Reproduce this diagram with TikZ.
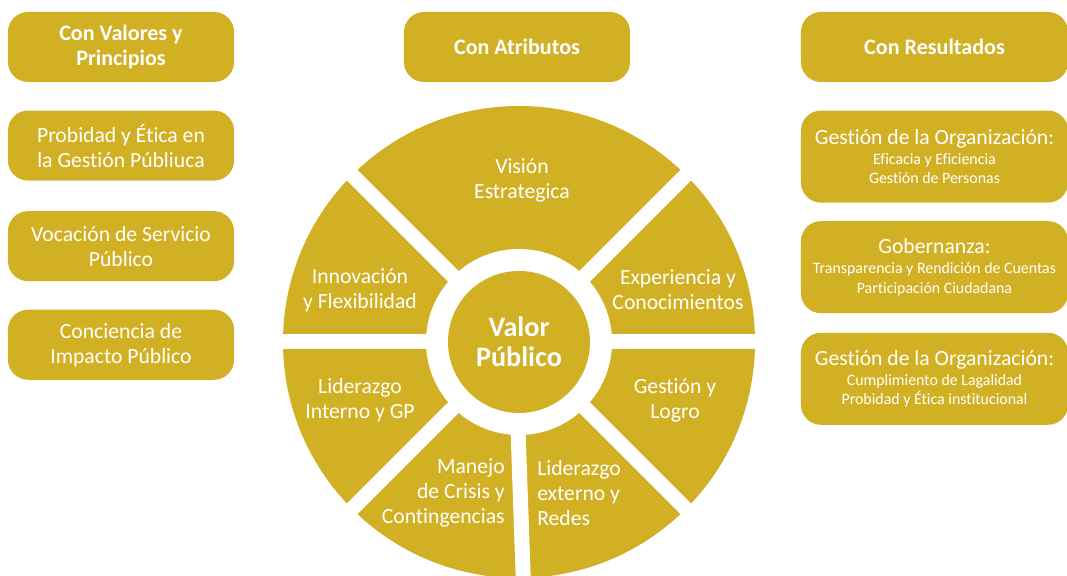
\documentclass[tikz,border=0pt]{standalone}
\usepackage{fontspec}
\setmainfont{Carlito}[Ligatures={NoCommon}]
\usetikzlibrary{positioning}
\definecolor{gold}{RGB}{210,176,36}
\newcommand{\subline}[1]{{\fontsize{11.3}{13.5}\selectfont #1}}

\begin{document}
\begin{tikzpicture}[
    x=0.025cm, y=0.025cm,
    node distance=0.7cm,
    box/.style={fill=gold, rounded corners=0.5cm, minimum width=5.65cm, minimum height=1.75cm, align=center, text=white, inner sep=2pt, font=\fontsize{15.4}{17.8}\selectfont},
    headbox/.style={box, font=\bfseries\fontsize{15.7}{17.8}\selectfont},
    resultbox/.style={box, minimum width=6.675cm, minimum height=2.3cm, font=\fontsize{15.4}{18}\selectfont},
    seglabel/.style={text=white, align=center, inner sep=0pt, font=\fontsize{15.4}{17.8}\selectfont},
    gapline/.style={white, line width=0.375cm}
  ]
  \useasboundingbox (0,0) rectangle (1067,576);
  \clip (0,0) rectangle (1067,576);
  \fill[white] (0,0) rectangle (1067,576);

  % left column
  \node[headbox] (valores) at (121,529) {Con Valores y\\Principios};
  \node[box, below=of valores] (probidad) {Probidad y Ética en\\la Gestión Públiuca};
  \node[box, below=0.75cm of probidad] (vocacion) {Vocación de Servicio\\Público};
  \node[box, below=of vocacion] (conciencia) {Conciencia de\\Impacto Público};

  % middle column
  \node[headbox] (atributos) at (517,529) {Con Atributos};

  % right column
  \node[headbox, minimum width=6.675cm] (resultados) at (934.5,529) {Con Resultados};
  \node[resultbox, below=of resultados] (organizacion) {Gestión de la Organización:\\[-4pt]
    \subline{Eficacia y Eficiencia}\\[-4pt]\subline{Gestión de Personas}};
  \node[resultbox, below=0.45cm of organizacion] (gobernanza) {Gobernanza:\\[-4pt]
    \subline{Transparencia y Rendición de Cuentas}\\[-4pt]\subline{Participación Ciudadana}};
  \node[resultbox, below=0.475cm of gobernanza] (legalidad) {Gestión de la Organización:\\[-4pt]
    \subline{Cumplimiento de Lagalidad}\\[-4pt]\subline{Probidad y Ética institucional}};

  % wheel
  \coordinate (C) at (519,234);
  \fill[gold] (C) circle (236);
  \foreach \a in {0,45,135,180,-45,-135}
    \draw[gapline] (C) ++(\a:80) -- ++(\a:200);
  \draw[gapline] (516.5,190) -- (523.5,-10);
  \fill[white] (C) circle (93);
  \fill[gold] (C) circle (71);

  \node[seglabel, font=\bfseries\fontsize{20}{21.5}\selectfont] (valor) at (C) {Valor\\Público};
  \node[seglabel] (vision) at (522,396) {Visión\\Estrategica};
  \node[seglabel] (innovacion) at (360,286) {Innovación\\y Flexibilidad};
  \node[seglabel] (experiencia) at (678,286) {Experiencia y\\Conocimientos};
  \node[seglabel] (interno) at (360,176) {Liderazgo\\Interno y GP};
  \node[seglabel] (logro) at (675,176) {Gestión y\\Logro};
  \node[seglabel, align=right, anchor=east] (crisis) at (505,83) {Manejo\\de Crisis y\\Contingencias};
  \node[seglabel, align=left, anchor=west] (externo) at (537,83) {Liderazgo\\externo y\\Redes};
\end{tikzpicture}
\end{document}
